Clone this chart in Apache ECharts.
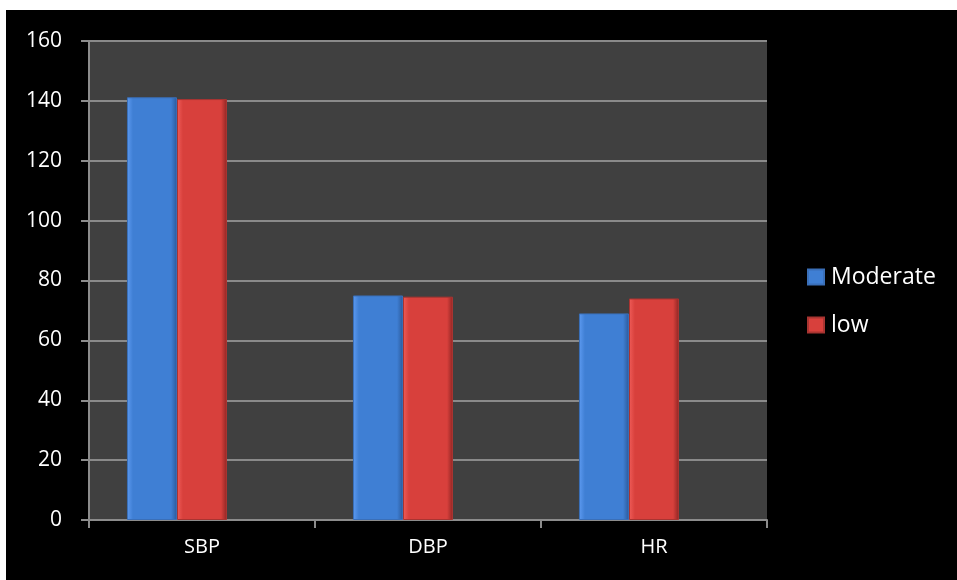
<!DOCTYPE html>
<html><head><meta charset="utf-8">
<script src="https://cdn.jsdelivr.net/npm/echarts@6/dist/echarts.min.js"></script>
<style>
html,body{margin:0;padding:0;background:#fff;width:957px;height:580px;overflow:hidden}
#c{position:absolute;left:6px;top:10px;width:951px;height:570px;background:#000}
</style></head><body>
<div id="c"></div>
<script>
const categories = ['SBP', 'DBP', 'HR'];
const moderate = [141.2, 75.0, 69.0];
const low = [140.6, 74.6, 74.0];
const placeholder = [null, null, null];
const yTicks = [0, 20, 40, 60, 80, 100, 120, 140, 160];

const font = '"Open Sans", "Liberation Sans", sans-serif';
function grad(light, mid, dark) {
  return new echarts.graphic.LinearGradient(0, 0, 1, 0, [
    {offset: 0, color: light},
    {offset: 0.12, color: mid},
    {offset: 0.88, color: mid},
    {offset: 1, color: dark}
  ]);
}
const chart = echarts.init(document.getElementById('c'));
chart.setOption({
  backgroundColor: '#000',
  animation: false,
  grid: {left: 83, top: 31, right: 190, bottom: 60, show: true, backgroundColor: '#404040', borderWidth: 0},
  legend: {
    orient: 'vertical', left: 796, top: 249, itemGap: 22,
    itemWidth: 16, itemHeight: 15, icon: 'rect',
    textStyle: {color: '#fff', fontSize: 23, lineHeight: 26, fontFamily: font, padding: [0, 0, 0, 2]},
    data: ['Moderate', 'low']
  },
  xAxis: {
    type: 'category', data: categories,
    axisLine: {lineStyle: {color: '#8c8c8c', width: 2}},
    axisTick: {show: true, length: 8, lineStyle: {color: '#8c8c8c', width: 2}},
    axisLabel: {color: '#fff', fontSize: 20, fontFamily: font, margin: 17}
  },
  yAxis: {
    type: 'value', min: yTicks[0], max: yTicks[yTicks.length - 1], interval: 20,
    axisLine: {show: true, lineStyle: {color: '#8c8c8c', width: 2}},
    axisTick: {show: true, length: 8, lineStyle: {color: '#8c8c8c', width: 2}},
    splitLine: {lineStyle: {color: '#8a8a8a', width: 2}},
    axisLabel: {color: '#fff', fontSize: 21, fontFamily: font, margin: 27}
  },
  series: [
    {name: 'Moderate', type: 'bar', data: moderate, barGap: '0%', barCategoryGap: '33.6%',
     itemStyle: {color: grad('#5d9af0', '#3f7fd4', '#2c5a9a'), borderColor: '#3a6fb8', borderWidth: 1}},
    {name: 'low', type: 'bar', data: low,
     itemStyle: {color: grad('#ef5c58', '#d8403c', '#8e2523'), borderColor: '#a83431', borderWidth: 1}},
    {name: 'hidden', type: 'bar', data: placeholder, itemStyle: {color: 'transparent'}}
  ]
});
</script></body></html>
